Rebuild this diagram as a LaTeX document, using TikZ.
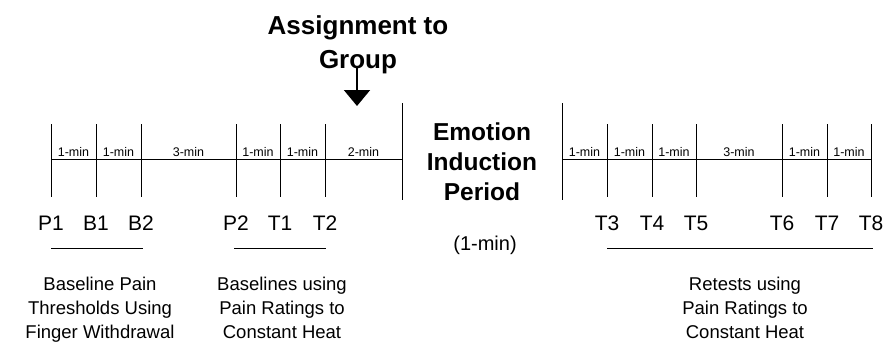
\documentclass[tikz,border=0pt]{standalone}
\usepackage{fontspec}
\setmainfont{Liberation Sans}
\usetikzlibrary{arrows.meta}

\begin{document}
\begin{tikzpicture}[x=1pt,y=-1pt,
        tick/.style={line width=0.9pt},
        durlabel/.style={anchor=base, inner sep=0pt, font=\fontsize{12.5}{14}\selectfont},
        ptlabel/.style={anchor=base, inner sep=0pt, font=\fontsize{21}{24}\selectfont},
        phase/.style={anchor=north, inner sep=0pt, align=center, font=\fontsize{18.5}{24}\selectfont},
        heading/.style={anchor=north, inner sep=0pt, align=center, font=\bfseries\fontsize{26}{34}\selectfont}]
        \useasboundingbox (0,0) rectangle (885,343);

        % Baseline timeline
        \draw[tick] (51,159) -- (402,159);
        \foreach \x/\lab in {51/P1,96/B1,141/B2,236/P2,280/T1,325/T2} {
            \draw[tick] (\x,124) -- (\x,197);
            \node[ptlabel] (\lab) at (\x,230) {\lab};
        }
        \draw[tick] (402,103) -- (402,200);
        \foreach \a/\b/\m [count=\i] in {51/96/1,96/141/1,141/236/3,236/280/1,280/325/1,325/402/2}
            \node[durlabel] (durA\i) at ({(\a+\b)/2},156.5) {\m-min};

        % Assignment arrow
        \node[heading] (assign) at (358,15) {Assignment to\\Group};
        \coordinate (dropTop) at (357,68);
        \coordinate (dropTip) at (357,106);
        \draw[line width=2pt,-{Triangle[width=26pt,length=16pt]}] (dropTop) -- (dropTip);

        % Emotion induction
        \node[heading, font=\bfseries\fontsize{24.5}{30}\selectfont] (emotion) at (482,123) {Emotion\\Induction\\Period};
        \node[ptlabel, font=\fontsize{20}{24}\selectfont] (inductionTime) at (485,250) {(1-min)};

        % Retest timeline
        \draw[tick] (562,103) -- (562,200);
        \draw[tick] (562,159) -- (871,159);
        \foreach \x/\lab in {607/T3,652/T4,696/T5,782/T6,827/T7,871/T8} {
            \draw[tick] (\x,124) -- (\x,197);
            \node[ptlabel] (\lab) at (\x,230) {\lab};
        }
        \foreach \a/\b/\m [count=\i] in {562/607/1,607/652/1,652/696/1,696/782/3,782/827/1,827/871/1}
            \node[durlabel] (durB\i) at ({(\a+\b)/2},156.5) {\m-min};

        % Groupings
        \draw[tick] (51,248) -- (143,248);
        \draw[tick] (234,248) -- (326,248);
        \draw[tick] (607,248) -- (873,248);
        \node[phase] (thresholds) at (100,277) {Baseline Pain\\Thresholds Using\\Finger Withdrawal};
        \node[phase] (baselines) at (282,277) {Baselines using\\Pain Ratings to\\Constant Heat};
        \node[phase] (retests) at (745,277) {Retests using\\Pain Ratings to\\Constant Heat};
    \end{tikzpicture}
\end{document}
